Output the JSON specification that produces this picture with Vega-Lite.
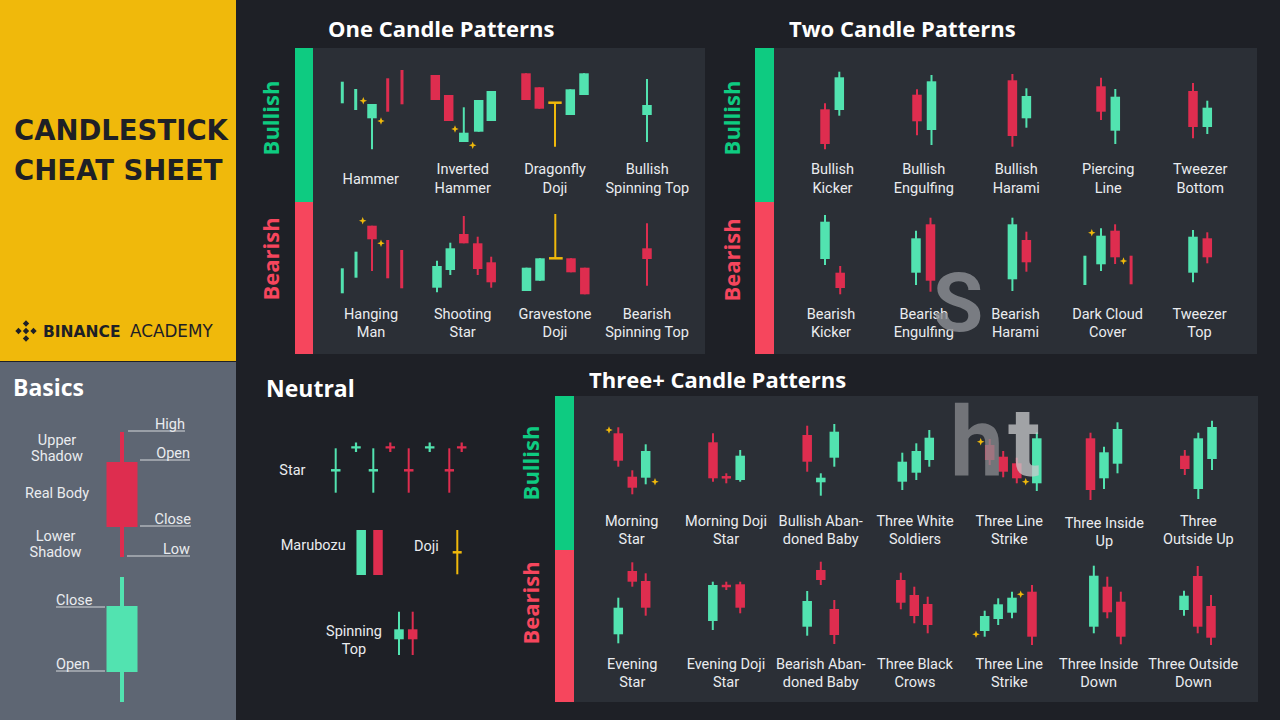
{
  "$schema": "https://vega.github.io/schema/vega-lite/v6.json",
  "width": 1280,
  "height": 720,
  "autosize": {"type": "fit", "contains": "padding"},
  "padding": 0,
  "background": "#1e2026",
  "config": {"view": {"stroke": null}, "scale": {"continuousPadding": 0}},
  "datasets": {
    "blocks": [
      {"d": "yellow", "x": 0, "x2": 236, "y": 0, "y2": 361},
      {"d": "basics", "x": 0, "x2": 236, "y": 362, "y2": 720},
      {"d": "panel", "x": 295, "x2": 705, "y": 48, "y2": 354},
      {"d": "panel", "x": 755, "x2": 1257, "y": 48, "y2": 354},
      {"d": "panel", "x": 555, "x2": 1258, "y": 396, "y2": 702},
      {"d": "bull", "x": 295, "x2": 313, "y": 48, "y2": 202},
      {"d": "bear", "x": 295, "x2": 313, "y": 202, "y2": 354},
      {"d": "bull", "x": 755, "x2": 774, "y": 48, "y2": 202},
      {"d": "bear", "x": 755, "x2": 774, "y": 202, "y2": 354},
      {"d": "bull", "x": 555, "x2": 574, "y": 396, "y2": 550},
      {"d": "bear", "x": 555, "x2": 574, "y": 550, "y2": 702}
    ],
    "candles": [
      {"p": "Basics", "x": 122, "o": 462, "c": 527, "h": 432, "l": 557, "d": "down", "k": "big"},
      {"p": "Basics", "x": 122, "o": 672, "c": 606, "h": 577, "l": 702, "d": "up", "k": "big"},
      {"p": "Hammer", "x": 342.3, "o": 103.3, "c": 81.7, "d": "up", "k": "thin"},
      {"p": "Hammer", "x": 355.7, "o": 110, "c": 89, "d": "up", "k": "thin"},
      {"p": "Hammer", "x": 372, "o": 118.3, "c": 104, "h": 104, "l": 149.3, "d": "up"},
      {"p": "Hammer", "x": 387.7, "o": 78.3, "c": 111.7, "d": "down", "k": "thin"},
      {"p": "Hammer", "x": 402, "o": 70, "c": 104.3, "d": "down", "k": "thin"},
      {"p": "Inverted Hammer", "x": 435.3, "o": 75, "c": 100, "h": 75, "l": 100, "d": "down"},
      {"p": "Inverted Hammer", "x": 448.7, "o": 95, "c": 121, "h": 95, "l": 121, "d": "down"},
      {"p": "Inverted Hammer", "x": 463.8, "o": 142, "c": 132.7, "h": 107.3, "l": 142, "d": "up"},
      {"p": "Inverted Hammer", "x": 478.7, "o": 131.7, "c": 100, "h": 100, "l": 131.7, "d": "up"},
      {"p": "Inverted Hammer", "x": 491.3, "o": 121, "c": 91, "h": 91, "l": 121, "d": "up"},
      {"p": "Dragonfly Doji", "x": 526, "o": 73.3, "c": 100, "h": 73.3, "l": 100, "d": "down"},
      {"p": "Dragonfly Doji", "x": 539.3, "o": 87.3, "c": 108.7, "h": 87.3, "l": 108.7, "d": "down"},
      {"p": "Dragonfly Doji", "x": 555, "h": 102.7, "l": 146.7, "d": "doji", "k": "wick"},
      {"p": "Dragonfly Doji", "x": 570.3, "o": 115, "c": 89.3, "h": 89.3, "l": 115, "d": "up"},
      {"p": "Dragonfly Doji", "x": 584, "o": 95, "c": 73.3, "h": 73.3, "l": 95, "d": "up"},
      {"p": "Bullish Spinning Top", "x": 647, "o": 115, "c": 105, "h": 79, "l": 142, "d": "up"},
      {"p": "Hanging Man", "x": 342.3, "o": 293.3, "c": 268.3, "d": "up", "k": "thin"},
      {"p": "Hanging Man", "x": 356, "o": 277.7, "c": 251.7, "d": "up", "k": "thin"},
      {"p": "Hanging Man", "x": 372, "o": 225.7, "c": 239.3, "h": 225.7, "l": 271, "d": "down"},
      {"p": "Hanging Man", "x": 387.7, "o": 240, "c": 278.3, "d": "down", "k": "thin"},
      {"p": "Hanging Man", "x": 401.7, "o": 250, "c": 288.3, "d": "down", "k": "thin"},
      {"p": "Shooting Star", "x": 437, "o": 287.7, "c": 266, "h": 260.7, "l": 292.3, "d": "up"},
      {"p": "Shooting Star", "x": 450.3, "o": 270, "c": 248.3, "h": 242.7, "l": 275, "d": "up"},
      {"p": "Shooting Star", "x": 463.8, "o": 234, "c": 243.3, "h": 216, "l": 243.3, "d": "down"},
      {"p": "Shooting Star", "x": 477.7, "o": 243.3, "c": 269, "h": 236.7, "l": 275, "d": "down"},
      {"p": "Shooting Star", "x": 491.2, "o": 262.3, "c": 282.3, "h": 256.7, "l": 287.7, "d": "down"},
      {"p": "Gravestone Doji", "x": 526.5, "o": 291, "c": 267.7, "h": 267.7, "l": 291, "d": "up"},
      {"p": "Gravestone Doji", "x": 540, "o": 280.7, "c": 258.3, "h": 258.3, "l": 280.7, "d": "up"},
      {"p": "Gravestone Doji", "x": 555.3, "h": 214, "l": 258.3, "d": "doji", "k": "wick"},
      {"p": "Gravestone Doji", "x": 571, "o": 258.3, "c": 272.3, "h": 258.3, "l": 272.3, "d": "down"},
      {"p": "Gravestone Doji", "x": 584.8, "o": 267.7, "c": 294.3, "h": 267.7, "l": 294.3, "d": "down"},
      {"p": "Bearish Spinning Top", "x": 647, "o": 248.3, "c": 259, "h": 223.3, "l": 285.7, "d": "down"},
      {"p": "Bullish Kicker", "x": 825, "o": 109.3, "c": 144, "h": 103.3, "l": 149.3, "d": "down"},
      {"p": "Bullish Kicker", "x": 839.3, "o": 110, "c": 77.3, "h": 71.7, "l": 115.7, "d": "up"},
      {"p": "Bullish Engulfing", "x": 917, "o": 94.7, "c": 121.3, "h": 89.3, "l": 135.3, "d": "down"},
      {"p": "Bullish Engulfing", "x": 931.5, "o": 130, "c": 81.3, "h": 75, "l": 145, "d": "up"},
      {"p": "Bullish Harami", "x": 1012.4, "o": 80.3, "c": 136, "h": 74, "l": 146.7, "d": "down"},
      {"p": "Bullish Harami", "x": 1026.4, "o": 118.3, "c": 96, "h": 88.3, "l": 127.7, "d": "up"},
      {"p": "Piercing Line", "x": 1101, "o": 86.3, "c": 111.7, "h": 77.7, "l": 120, "d": "down"},
      {"p": "Piercing Line", "x": 1115.3, "o": 130.7, "c": 96.7, "h": 89, "l": 144, "d": "up"},
      {"p": "Tweezer Bottom", "x": 1193, "o": 91, "c": 127, "h": 83, "l": 138.3, "d": "down"},
      {"p": "Tweezer Bottom", "x": 1207.3, "o": 127, "c": 107.7, "h": 100.7, "l": 134, "d": "up"},
      {"p": "Bearish Kicker", "x": 825, "o": 259, "c": 221.7, "h": 215, "l": 265, "d": "up"},
      {"p": "Bearish Kicker", "x": 840.2, "o": 272.7, "c": 288, "h": 266, "l": 294.3, "d": "down"},
      {"p": "Bearish Engulfing", "x": 916, "o": 272.7, "c": 238.3, "h": 230.7, "l": 285, "d": "up"},
      {"p": "Bearish Engulfing", "x": 930.5, "o": 224.3, "c": 280.7, "h": 217.7, "l": 291.7, "d": "down"},
      {"p": "Bearish Harami", "x": 1012.4, "o": 279.3, "c": 224.3, "h": 217.7, "l": 291, "d": "up"},
      {"p": "Bearish Harami", "x": 1026.4, "o": 240, "c": 262.3, "h": 231.7, "l": 271.7, "d": "down"},
      {"p": "Dark Cloud Cover", "x": 1084.9, "o": 285, "c": 255.7, "d": "up", "k": "thin"},
      {"p": "Dark Cloud Cover", "x": 1101, "o": 264.3, "c": 235.7, "h": 228.3, "l": 271, "d": "up"},
      {"p": "Dark Cloud Cover", "x": 1115.1, "o": 230.7, "c": 257.3, "h": 224.3, "l": 264, "d": "down"},
      {"p": "Dark Cloud Cover", "x": 1131.1, "o": 255.7, "c": 284.3, "d": "down", "k": "thin"},
      {"p": "Tweezer Top", "x": 1193, "o": 272.7, "c": 236.7, "h": 230, "l": 282.3, "d": "up"},
      {"p": "Tweezer Top", "x": 1207.3, "o": 238.3, "c": 257.3, "h": 232.3, "l": 263.3, "d": "down"},
      {"p": "Star", "x": 335.7, "h": 448.3, "l": 492.7, "d": "up", "k": "wick"},
      {"p": "Star", "x": 373.3, "h": 448.3, "l": 492.7, "d": "up", "k": "wick"},
      {"p": "Star", "x": 408.7, "h": 448.3, "l": 492.7, "d": "down", "k": "wick"},
      {"p": "Star", "x": 449.3, "h": 448.3, "l": 492.7, "d": "down", "k": "wick"},
      {"p": "Marubozu", "x": 361.2, "o": 575, "c": 530, "h": 530, "l": 575, "d": "up"},
      {"p": "Marubozu", "x": 378, "o": 530, "c": 575, "h": 530, "l": 575, "d": "down"},
      {"p": "Doji", "x": 457.3, "h": 530, "l": 574.3, "d": "doji", "k": "wick"},
      {"p": "Spinning Top", "x": 399, "o": 639.3, "c": 629.3, "h": 611.7, "l": 655, "d": "up"},
      {"p": "Spinning Top", "x": 412.7, "o": 629.3, "c": 639.3, "h": 611.7, "l": 655, "d": "down"},
      {"p": "Morning Star", "x": 618.3, "o": 433.3, "c": 460.7, "h": 427.3, "l": 466.7, "d": "down"},
      {"p": "Morning Star", "x": 632.3, "o": 476.7, "c": 487.7, "h": 470.3, "l": 494.3, "d": "down"},
      {"p": "Morning Star", "x": 645.7, "o": 477.7, "c": 451, "h": 444.3, "l": 484.3, "d": "up"},
      {"p": "Morning Doji Star", "x": 713, "o": 442.3, "c": 478.3, "h": 433.3, "l": 481.7, "d": "down"},
      {"p": "Morning Doji Star", "x": 726.3, "h": 473.3, "l": 483.3, "d": "down", "k": "wick"},
      {"p": "Morning Doji Star", "x": 740.2, "o": 480, "c": 455.7, "h": 450, "l": 481.7, "d": "up"},
      {"p": "Bullish Abandoned Baby", "x": 807.2, "o": 435, "c": 461.7, "h": 425.7, "l": 471.7, "d": "down"},
      {"p": "Bullish Abandoned Baby", "x": 820.8, "o": 482.3, "c": 477.7, "h": 473.3, "l": 495.7, "d": "up"},
      {"p": "Bullish Abandoned Baby", "x": 834.3, "o": 457.7, "c": 431.7, "h": 424, "l": 466.7, "d": "up"},
      {"p": "Three White Soldiers", "x": 902.3, "o": 481.7, "c": 461.7, "h": 452.7, "l": 490, "d": "up"},
      {"p": "Three White Soldiers", "x": 916.3, "o": 472.7, "c": 451, "h": 443.3, "l": 480, "d": "up"},
      {"p": "Three White Soldiers", "x": 929.3, "o": 460, "c": 437.7, "h": 430, "l": 466.7, "d": "up"},
      {"p": "Three Line Strike Up", "x": 989.7, "o": 445, "c": 460, "h": 439, "l": 465, "d": "down"},
      {"p": "Three Line Strike Up", "x": 1003.2, "o": 456.7, "c": 471.7, "h": 451, "l": 477.3, "d": "down"},
      {"p": "Three Line Strike Up", "x": 1016.8, "o": 463.3, "c": 478.3, "h": 457.7, "l": 483.3, "d": "down"},
      {"p": "Three Line Strike Up", "x": 1036.8, "o": 483.3, "c": 438.3, "h": 432.3, "l": 491, "d": "up"},
      {"p": "Three Inside Up", "x": 1090.5, "o": 438.3, "c": 490, "h": 432.7, "l": 500, "d": "down"},
      {"p": "Three Inside Up", "x": 1104, "o": 478.3, "c": 452.3, "h": 446.7, "l": 489, "d": "up"},
      {"p": "Three Inside Up", "x": 1117.5, "o": 463.7, "c": 429, "h": 422.3, "l": 473.3, "d": "up"},
      {"p": "Three Outside Up", "x": 1184.8, "o": 455.7, "c": 469, "h": 450, "l": 475, "d": "down"},
      {"p": "Three Outside Up", "x": 1198.3, "o": 489, "c": 438.3, "h": 432.7, "l": 499, "d": "up"},
      {"p": "Three Outside Up", "x": 1212, "o": 459, "c": 427, "h": 420.7, "l": 470, "d": "up"},
      {"p": "Evening Star", "x": 618.3, "o": 634.3, "c": 607.7, "h": 597.7, "l": 643.3, "d": "up"},
      {"p": "Evening Star", "x": 632.3, "o": 571, "c": 581.7, "h": 562.3, "l": 586.7, "d": "down"},
      {"p": "Evening Star", "x": 645.7, "o": 581, "c": 607.7, "h": 573.3, "l": 615.7, "d": "down"},
      {"p": "Evening Doji Star", "x": 712.8, "o": 621, "c": 585, "h": 581.7, "l": 630, "d": "up"},
      {"p": "Evening Doji Star", "x": 726.3, "h": 581.7, "l": 590, "d": "down", "k": "wick"},
      {"p": "Evening Doji Star", "x": 740.2, "o": 584.3, "c": 607.7, "h": 581.7, "l": 613.3, "d": "down"},
      {"p": "Bearish Abandoned Baby", "x": 807.2, "o": 626.7, "c": 601, "h": 591, "l": 635.7, "d": "up"},
      {"p": "Bearish Abandoned Baby", "x": 820.8, "o": 570, "c": 580, "h": 561.7, "l": 585, "d": "down"},
      {"p": "Bearish Abandoned Baby", "x": 834.3, "o": 609, "c": 635, "h": 600, "l": 644, "d": "down"},
      {"p": "Three Black Crows", "x": 900.8, "o": 580, "c": 602.7, "h": 572.7, "l": 609.3, "d": "down"},
      {"p": "Three Black Crows", "x": 914.3, "o": 595, "c": 616, "h": 586.7, "l": 623.3, "d": "down"},
      {"p": "Three Black Crows", "x": 927.7, "o": 604, "c": 625, "h": 596.7, "l": 633.3, "d": "down"},
      {"p": "Three Line Strike Down", "x": 984.7, "o": 631, "c": 616, "h": 610.7, "l": 636.7, "d": "up"},
      {"p": "Three Line Strike Down", "x": 998.2, "o": 619, "c": 604.3, "h": 598.3, "l": 625, "d": "up"},
      {"p": "Three Line Strike Down", "x": 1012, "o": 612.7, "c": 597.7, "h": 591.7, "l": 618.3, "d": "up"},
      {"p": "Three Line Strike Down", "x": 1032, "o": 591.7, "c": 636.7, "h": 585, "l": 645, "d": "down"},
      {"p": "Three Inside Down", "x": 1093.8, "o": 626.7, "c": 575.7, "h": 565.7, "l": 633.3, "d": "up"},
      {"p": "Three Inside Down", "x": 1107.3, "o": 586.7, "c": 612.3, "h": 576.7, "l": 618.3, "d": "down"},
      {"p": "Three Inside Down", "x": 1120.8, "o": 601.7, "c": 636.7, "h": 591.7, "l": 644.3, "d": "down"},
      {"p": "Three Outside Down", "x": 1184, "o": 610, "c": 595.7, "h": 590.7, "l": 615.7, "d": "up"},
      {"p": "Three Outside Down", "x": 1197.7, "o": 576, "c": 626.7, "h": 566, "l": 633.3, "d": "down"},
      {"p": "Three Outside Down", "x": 1211, "o": 606, "c": 637.7, "h": 595, "l": 645, "d": "down"}
    ],
    "crosses": [
      {"x": 548.3, "x2": 561.7, "y": 102.7, "d": "doji"},
      {"x": 549, "x2": 562.7, "y": 258.3, "d": "doji"},
      {"x": 331, "x2": 340.5, "y": 470.3, "d": "up"},
      {"x": 368.7, "x2": 378, "y": 470.3, "d": "up"},
      {"x": 404, "x2": 413.5, "y": 470.3, "d": "down"},
      {"x": 444.7, "x2": 454, "y": 470.3, "d": "down"},
      {"x": 452.7, "x2": 461.7, "y": 552.3, "d": "doji"},
      {"x": 721.7, "x2": 731, "y": 477.3, "d": "down"},
      {"x": 721.7, "x2": 731, "y": 586, "d": "down"}
    ],
    "pluses": [
      {"x": 356, "y": 447.3, "d": "up"},
      {"x": 390.3, "y": 447.3, "d": "down"},
      {"x": 429.7, "y": 447.3, "d": "up"},
      {"x": 461.7, "y": 447.3, "d": "down"}
    ],
    "sparks": [
      {"x": 363.3, "y": 100.7}, {"x": 381, "y": 121}, {"x": 455, "y": 129}, {"x": 472.7, "y": 145.3},
      {"x": 362.7, "y": 220.7}, {"x": 381, "y": 243.3}, {"x": 1091.8, "y": 232.7}, {"x": 1123.5, "y": 261},
      {"x": 609, "y": 430}, {"x": 655, "y": 481.7}, {"x": 980.7, "y": 441.7}, {"x": 1025.7, "y": 481.7},
      {"x": 976, "y": 634.3}, {"x": 1020.7, "y": 594.3}
    ],
    "underlines": [
      {"x": 128, "x2": 185, "y": 431},
      {"x": 140, "x2": 190, "y": 460},
      {"x": 140, "x2": 191, "y": 526},
      {"x": 127, "x2": 190, "y": 556},
      {"x": 56, "x2": 105, "y": 607},
      {"x": 56, "x2": 105, "y": 671}
    ],
    "logo": [
      {"x": 26, "y": 331}, {"x": 18.5, "y": 331}, {"x": 33.5, "y": 331}, {"x": 26, "y": 323.5}, {"x": 26, "y": 338.5}
    ],
    "labels": [
      {"t": ["Hammer"], "x": 370.7, "y": 184},
      {"t": ["Inverted", "Hammer"], "x": 462.7, "y": 174.3},
      {"t": ["Dragonfly", "Doji"], "x": 555, "y": 174.3},
      {"t": ["Bullish", "Spinning Top"], "x": 647.3, "y": 174.3},
      {"t": ["Hanging", "Man"], "x": 371, "y": 319},
      {"t": ["Shooting", "Star"], "x": 462.7, "y": 319},
      {"t": ["Gravestone", "Doji"], "x": 555, "y": 319},
      {"t": ["Bearish", "Spinning Top"], "x": 647, "y": 319},
      {"t": ["Bullish", "Kicker"], "x": 832.5, "y": 174.3},
      {"t": ["Bullish", "Engulfing"], "x": 923.8, "y": 174.3},
      {"t": ["Bullish", "Harami"], "x": 1016.2, "y": 174.3},
      {"t": ["Piercing", "Line"], "x": 1108.2, "y": 174.3},
      {"t": ["Tweezer", "Bottom"], "x": 1200.2, "y": 174.3},
      {"t": ["Bearish", "Kicker"], "x": 831, "y": 319},
      {"t": ["Bearish", "Engulfing"], "x": 923.8, "y": 319},
      {"t": ["Bearish", "Harami"], "x": 1015.5, "y": 319},
      {"t": ["Dark Cloud", "Cover"], "x": 1107.5, "y": 319},
      {"t": ["Tweezer", "Top"], "x": 1199.5, "y": 319},
      {"t": ["Morning", "Star"], "x": 631.7, "y": 526},
      {"t": ["Morning Doji", "Star"], "x": 726, "y": 526},
      {"t": ["Bullish Aban-", "doned Baby"], "x": 820.7, "y": 526},
      {"t": ["Three White", "Soldiers"], "x": 915, "y": 526},
      {"t": ["Three Line", "Strike"], "x": 1009.3, "y": 526},
      {"t": ["Three Inside", "Up"], "x": 1104.3, "y": 527.5},
      {"t": ["Three", "Outside Up"], "x": 1198.3, "y": 526},
      {"t": ["Evening", "Star"], "x": 632.3, "y": 669},
      {"t": ["Evening Doji", "Star"], "x": 726, "y": 669},
      {"t": ["Bearish Aban-", "doned Baby"], "x": 820.7, "y": 669},
      {"t": ["Three Black", "Crows"], "x": 915, "y": 669},
      {"t": ["Three Line", "Strike"], "x": 1009.3, "y": 669},
      {"t": ["Three Inside", "Down"], "x": 1098.7, "y": 669},
      {"t": ["Three Outside", "Down"], "x": 1193.3, "y": 669},
      {"t": ["Spinning", "Top"], "x": 354, "y": 635.5}
    ],
    "basicsLabels": [
      {"t": ["Upper", "Shadow"], "x": 57, "y": 445},
      {"t": ["Real Body"], "x": 57, "y": 498},
      {"t": ["Lower", "Shadow"], "x": 55.5, "y": 540.5}
    ],
    "leftLabels": [
      {"t": "Star", "x": 279.3, "y": 475},
      {"t": "Marubozu", "x": 280.7, "y": 550},
      {"t": "Doji", "x": 414, "y": 551},
      {"t": "Close", "x": 56, "y": 604.5},
      {"t": "Open", "x": 56, "y": 669}
    ],
    "rightLabels": [
      {"t": "High", "x": 185, "y": 429},
      {"t": "Open", "x": 190, "y": 458},
      {"t": "Close", "x": 191, "y": 524},
      {"t": "Low", "x": 190, "y": 553.5}
    ],
    "titles": [
      {"t": "One Candle Patterns", "x": 328, "y": 37},
      {"t": "Two Candle Patterns", "x": 789, "y": 37},
      {"t": "Three+ Candle Patterns", "x": 589, "y": 388}
    ],
    "subtitles": [
      {"t": "Neutral", "x": 266, "y": 397},
      {"t": "Basics", "x": 13, "y": 396}
    ],
    "sections": [
      {"t": "Bullish", "x": 272, "y": 118, "d": "bull"},
      {"t": "Bearish", "x": 272, "y": 259, "d": "bear"},
      {"t": "Bullish", "x": 733, "y": 118, "d": "bull"},
      {"t": "Bearish", "x": 733, "y": 260, "d": "bear"},
      {"t": "Bullish", "x": 532, "y": 463, "d": "bull"},
      {"t": "Bearish", "x": 532, "y": 603, "d": "bear"}
    ],
    "headline": [
      {"t": "CANDLESTICK", "x": 14, "y": 140},
      {"t": "CHEAT SHEET", "x": 14, "y": 180}
    ]
  },
  "layer": [
    {
      "data": {"name": "blocks"},
      "mark": {"type": "rect"},
      "encoding": {
        "x": {"field": "x", "type": "quantitative", "axis": null, "scale": {"domain": [0, 1280], "nice": false, "zero": false, "padding": 0}},
        "x2": {"field": "x2"},
        "y": {"field": "y", "type": "quantitative", "axis": null, "scale": {"domain": [0, 720], "nice": false, "zero": false, "reverse": true, "padding": 0}},
        "y2": {"field": "y2"},
        "color": {"field": "d", "type": "nominal", "legend": null, "scale": {"domain": ["yellow", "basics", "panel", "bull", "bear", "up", "down", "doji"], "range": ["#f0b90b", "#5e6673", "#2b2f36", "#0ecb81", "#f6465d", "#52e3b0", "#de2d4f", "#f0b90b"]}}
      }
    },
    {
      "data": {"name": "underlines"},
      "mark": {"type": "rule", "color": "#d5d8dc", "strokeWidth": 1},
      "encoding": {
        "x": {"field": "x", "type": "quantitative", "axis": null, "scale": {"domain": [0, 1280], "nice": false, "zero": false, "padding": 0}},
        "x2": {"field": "x2"},
        "y": {"field": "y", "type": "quantitative", "axis": null, "scale": {"domain": [0, 720], "nice": false, "zero": false, "reverse": true, "padding": 0}}
      }
    },
    {
      "data": {"name": "candles"},
      "transform": [{"filter": "!datum.k || datum.k == 'wick'"}],
      "mark": {"type": "rule", "strokeWidth": 2},
      "encoding": {
        "x": {"field": "x", "type": "quantitative", "axis": null, "scale": {"domain": [0, 1280], "nice": false, "zero": false, "padding": 0}},
        "y": {"field": "h", "type": "quantitative", "axis": null, "scale": {"domain": [0, 720], "nice": false, "zero": false, "reverse": true, "padding": 0}},
        "y2": {"field": "l"},
        "color": {"field": "d", "type": "nominal", "legend": null, "scale": {"domain": ["yellow", "basics", "panel", "bull", "bear", "up", "down", "doji"], "range": ["#f0b90b", "#5e6673", "#2b2f36", "#0ecb81", "#f6465d", "#52e3b0", "#de2d4f", "#f0b90b"]}}
      }
    },
    {
      "data": {"name": "candles"},
      "transform": [{"filter": "datum.k == 'big'"}],
      "mark": {"type": "rule", "strokeWidth": 4},
      "encoding": {
        "x": {"field": "x", "type": "quantitative", "axis": null, "scale": {"domain": [0, 1280], "nice": false, "zero": false, "padding": 0}},
        "y": {"field": "h", "type": "quantitative", "axis": null, "scale": {"domain": [0, 720], "nice": false, "zero": false, "reverse": true, "padding": 0}},
        "y2": {"field": "l"},
        "color": {"field": "d", "type": "nominal", "legend": null, "scale": {"domain": ["yellow", "basics", "panel", "bull", "bear", "up", "down", "doji"], "range": ["#f0b90b", "#5e6673", "#2b2f36", "#0ecb81", "#f6465d", "#52e3b0", "#de2d4f", "#f0b90b"]}}
      }
    },
    {
      "data": {"name": "candles"},
      "transform": [{"filter": "!datum.k"}],
      "mark": {"type": "bar", "size": 9.5},
      "encoding": {
        "x": {"field": "x", "type": "quantitative", "axis": null, "scale": {"domain": [0, 1280], "nice": false, "zero": false, "padding": 0}},
        "y": {"field": "o", "type": "quantitative", "axis": null, "scale": {"domain": [0, 720], "nice": false, "zero": false, "reverse": true, "padding": 0}},
        "y2": {"field": "c"},
        "color": {"field": "d", "type": "nominal", "legend": null, "scale": {"domain": ["yellow", "basics", "panel", "bull", "bear", "up", "down", "doji"], "range": ["#f0b90b", "#5e6673", "#2b2f36", "#0ecb81", "#f6465d", "#52e3b0", "#de2d4f", "#f0b90b"]}}
      }
    },
    {
      "data": {"name": "candles"},
      "transform": [{"filter": "datum.k == 'thin'"}],
      "mark": {"type": "bar", "size": 3},
      "encoding": {
        "x": {"field": "x", "type": "quantitative", "axis": null, "scale": {"domain": [0, 1280], "nice": false, "zero": false, "padding": 0}},
        "y": {"field": "o", "type": "quantitative", "axis": null, "scale": {"domain": [0, 720], "nice": false, "zero": false, "reverse": true, "padding": 0}},
        "y2": {"field": "c"},
        "color": {"field": "d", "type": "nominal", "legend": null, "scale": {"domain": ["yellow", "basics", "panel", "bull", "bear", "up", "down", "doji"], "range": ["#f0b90b", "#5e6673", "#2b2f36", "#0ecb81", "#f6465d", "#52e3b0", "#de2d4f", "#f0b90b"]}}
      }
    },
    {
      "data": {"name": "candles"},
      "transform": [{"filter": "datum.k == 'big'"}],
      "mark": {"type": "bar", "size": 31},
      "encoding": {
        "x": {"field": "x", "type": "quantitative", "axis": null, "scale": {"domain": [0, 1280], "nice": false, "zero": false, "padding": 0}},
        "y": {"field": "o", "type": "quantitative", "axis": null, "scale": {"domain": [0, 720], "nice": false, "zero": false, "reverse": true, "padding": 0}},
        "y2": {"field": "c"},
        "color": {"field": "d", "type": "nominal", "legend": null, "scale": {"domain": ["yellow", "basics", "panel", "bull", "bear", "up", "down", "doji"], "range": ["#f0b90b", "#5e6673", "#2b2f36", "#0ecb81", "#f6465d", "#52e3b0", "#de2d4f", "#f0b90b"]}}
      }
    },
    {
      "data": {"name": "crosses"},
      "mark": {"type": "rule", "strokeWidth": 2.5},
      "encoding": {
        "x": {"field": "x", "type": "quantitative", "axis": null, "scale": {"domain": [0, 1280], "nice": false, "zero": false, "padding": 0}},
        "x2": {"field": "x2"},
        "y": {"field": "y", "type": "quantitative", "axis": null, "scale": {"domain": [0, 720], "nice": false, "zero": false, "reverse": true, "padding": 0}},
        "color": {"field": "d", "type": "nominal", "legend": null, "scale": {"domain": ["yellow", "basics", "panel", "bull", "bear", "up", "down", "doji"], "range": ["#f0b90b", "#5e6673", "#2b2f36", "#0ecb81", "#f6465d", "#52e3b0", "#de2d4f", "#f0b90b"]}}
      }
    },
    {
      "data": {"name": "pluses"},
      "mark": {"type": "point", "shape": "M-1,0L1,0M0,-1L0,1", "filled": false, "strokeWidth": 2.2, "size": 90, "opacity": 1},
      "encoding": {
        "x": {"field": "x", "type": "quantitative", "axis": null, "scale": {"domain": [0, 1280], "nice": false, "zero": false, "padding": 0}},
        "y": {"field": "y", "type": "quantitative", "axis": null, "scale": {"domain": [0, 720], "nice": false, "zero": false, "reverse": true, "padding": 0}},
        "color": {"field": "d", "type": "nominal", "legend": null, "scale": {"domain": ["yellow", "basics", "panel", "bull", "bear", "up", "down", "doji"], "range": ["#f0b90b", "#5e6673", "#2b2f36", "#0ecb81", "#f6465d", "#52e3b0", "#de2d4f", "#f0b90b"]}}
      }
    },
    {
      "data": {"name": "sparks"},
      "mark": {"type": "point", "shape": "M0,-1L0.28,-0.28L1,0L0.28,0.28L0,1L-0.28,0.28L-1,0L-0.28,-0.28Z", "filled": true, "size": 56, "color": "#f0b90b", "opacity": 1},
      "encoding": {
        "x": {"field": "x", "type": "quantitative", "axis": null, "scale": {"domain": [0, 1280], "nice": false, "zero": false, "padding": 0}},
        "y": {"field": "y", "type": "quantitative", "axis": null, "scale": {"domain": [0, 720], "nice": false, "zero": false, "reverse": true, "padding": 0}}
      }
    },
    {
      "data": {"name": "logo"},
      "mark": {"type": "point", "shape": "diamond", "filled": true, "size": 40, "color": "#1e2026", "opacity": 1},
      "encoding": {
        "x": {"field": "x", "type": "quantitative", "axis": null, "scale": {"domain": [0, 1280], "nice": false, "zero": false, "padding": 0}},
        "y": {"field": "y", "type": "quantitative", "axis": null, "scale": {"domain": [0, 720], "nice": false, "zero": false, "reverse": true, "padding": 0}}
      }
    },
    {
      "data": {"name": "headline"},
      "mark": {"type": "text", "font": "DejaVu Sans", "fontWeight": "bold", "fontSize": 27.5, "align": "left", "baseline": "alphabetic", "color": "#1e2026"},
      "encoding": {
        "x": {"field": "x", "type": "quantitative", "axis": null, "scale": {"domain": [0, 1280], "nice": false, "zero": false, "padding": 0}},
        "y": {"field": "y", "type": "quantitative", "axis": null, "scale": {"domain": [0, 720], "nice": false, "zero": false, "reverse": true, "padding": 0}},
        "text": {"field": "t"}
      }
    },
    {
      "data": {"values": [{"t": "BINANCE", "x": 43, "y": 337}]},
      "mark": {"type": "text", "font": "DejaVu Sans", "fontWeight": "bold", "fontSize": 15.5, "align": "left", "baseline": "alphabetic", "color": "#1e2026"},
      "encoding": {
        "x": {"field": "x", "type": "quantitative", "axis": null, "scale": {"domain": [0, 1280], "nice": false, "zero": false, "padding": 0}},
        "y": {"field": "y", "type": "quantitative", "axis": null, "scale": {"domain": [0, 720], "nice": false, "zero": false, "reverse": true, "padding": 0}},
        "text": {"field": "t"}
      }
    },
    {
      "data": {"values": [{"t": "ACADEMY", "x": 130, "y": 337}]},
      "mark": {"type": "text", "font": "DejaVu Sans", "fontSize": 16.8, "align": "left", "baseline": "alphabetic", "color": "#1e2026"},
      "encoding": {
        "x": {"field": "x", "type": "quantitative", "axis": null, "scale": {"domain": [0, 1280], "nice": false, "zero": false, "padding": 0}},
        "y": {"field": "y", "type": "quantitative", "axis": null, "scale": {"domain": [0, 720], "nice": false, "zero": false, "reverse": true, "padding": 0}},
        "text": {"field": "t"}
      }
    },
    {
      "data": {"name": "titles"},
      "mark": {"type": "text", "font": "Open Sans", "fontWeight": "bold", "fontSize": 22, "align": "left", "baseline": "alphabetic", "color": "#ffffff"},
      "encoding": {
        "x": {"field": "x", "type": "quantitative", "axis": null, "scale": {"domain": [0, 1280], "nice": false, "zero": false, "padding": 0}},
        "y": {"field": "y", "type": "quantitative", "axis": null, "scale": {"domain": [0, 720], "nice": false, "zero": false, "reverse": true, "padding": 0}},
        "text": {"field": "t"}
      }
    },
    {
      "data": {"name": "subtitles"},
      "mark": {"type": "text", "font": "Open Sans", "fontWeight": "bold", "fontSize": 23, "align": "left", "baseline": "alphabetic", "color": "#ffffff"},
      "encoding": {
        "x": {"field": "x", "type": "quantitative", "axis": null, "scale": {"domain": [0, 1280], "nice": false, "zero": false, "padding": 0}},
        "y": {"field": "y", "type": "quantitative", "axis": null, "scale": {"domain": [0, 720], "nice": false, "zero": false, "reverse": true, "padding": 0}},
        "text": {"field": "t"}
      }
    },
    {
      "data": {"name": "sections"},
      "mark": {"type": "text", "font": "Open Sans", "fontWeight": "bold", "fontSize": 22, "align": "center", "baseline": "middle", "angle": 270},
      "encoding": {
        "x": {"field": "x", "type": "quantitative", "axis": null, "scale": {"domain": [0, 1280], "nice": false, "zero": false, "padding": 0}},
        "y": {"field": "y", "type": "quantitative", "axis": null, "scale": {"domain": [0, 720], "nice": false, "zero": false, "reverse": true, "padding": 0}},
        "text": {"field": "t"},
        "color": {"field": "d", "type": "nominal", "legend": null, "scale": {"domain": ["yellow", "basics", "panel", "bull", "bear", "up", "down", "doji"], "range": ["#f0b90b", "#5e6673", "#2b2f36", "#0ecb81", "#f6465d", "#52e3b0", "#de2d4f", "#f0b90b"]}}
      }
    },
    {
      "data": {"name": "labels"},
      "mark": {"type": "text", "font": "Roboto", "fontSize": 14.5, "align": "center", "baseline": "alphabetic", "lineHeight": 18.4, "color": "#eaecef"},
      "encoding": {
        "x": {"field": "x", "type": "quantitative", "axis": null, "scale": {"domain": [0, 1280], "nice": false, "zero": false, "padding": 0}},
        "y": {"field": "y", "type": "quantitative", "axis": null, "scale": {"domain": [0, 720], "nice": false, "zero": false, "reverse": true, "padding": 0}},
        "text": {"field": "t"}
      }
    },
    {
      "data": {"name": "basicsLabels"},
      "mark": {"type": "text", "font": "Roboto", "fontSize": 14.5, "align": "center", "baseline": "alphabetic", "lineHeight": 16, "color": "#eaecef"},
      "encoding": {
        "x": {"field": "x", "type": "quantitative", "axis": null, "scale": {"domain": [0, 1280], "nice": false, "zero": false, "padding": 0}},
        "y": {"field": "y", "type": "quantitative", "axis": null, "scale": {"domain": [0, 720], "nice": false, "zero": false, "reverse": true, "padding": 0}},
        "text": {"field": "t"}
      }
    },
    {
      "data": {"name": "leftLabels"},
      "mark": {"type": "text", "font": "Roboto", "fontSize": 14.5, "align": "left", "baseline": "alphabetic", "color": "#eaecef"},
      "encoding": {
        "x": {"field": "x", "type": "quantitative", "axis": null, "scale": {"domain": [0, 1280], "nice": false, "zero": false, "padding": 0}},
        "y": {"field": "y", "type": "quantitative", "axis": null, "scale": {"domain": [0, 720], "nice": false, "zero": false, "reverse": true, "padding": 0}},
        "text": {"field": "t"}
      }
    },
    {
      "data": {"name": "rightLabels"},
      "mark": {"type": "text", "font": "Roboto", "fontSize": 14.5, "align": "right", "baseline": "alphabetic", "color": "#eaecef"},
      "encoding": {
        "x": {"field": "x", "type": "quantitative", "axis": null, "scale": {"domain": [0, 1280], "nice": false, "zero": false, "padding": 0}},
        "y": {"field": "y", "type": "quantitative", "axis": null, "scale": {"domain": [0, 720], "nice": false, "zero": false, "reverse": true, "padding": 0}},
        "text": {"field": "t"}
      }
    },
    {
      "data": {"values": [{"t": "S", "x": 958, "y": 331}]},
      "mark": {"type": "text", "font": "Roboto", "fontWeight": "bold", "fontSize": 82, "align": "center", "baseline": "alphabetic", "color": "#8d9095", "opacity": 0.8},
      "encoding": {
        "x": {"field": "x", "type": "quantitative", "axis": null, "scale": {"domain": [0, 1280], "nice": false, "zero": false, "padding": 0}},
        "y": {"field": "y", "type": "quantitative", "axis": null, "scale": {"domain": [0, 720], "nice": false, "zero": false, "reverse": true, "padding": 0}},
        "text": {"field": "t"}
      }
    },
    {
      "data": {"values": [{"t": "h", "x": 950, "y": 475}]},
      "mark": {"type": "text", "font": "Roboto", "fontWeight": "bold", "fontSize": 96, "align": "left", "baseline": "alphabetic", "color": "#8a8c90", "opacity": 0.75},
      "encoding": {
        "x": {"field": "x", "type": "quantitative", "axis": null, "scale": {"domain": [0, 1280], "nice": false, "zero": false, "padding": 0}},
        "y": {"field": "y", "type": "quantitative", "axis": null, "scale": {"domain": [0, 720], "nice": false, "zero": false, "reverse": true, "padding": 0}},
        "text": {"field": "t"}
      }
    },
    {
      "data": {"values": [{"t": "t", "x": 1008, "y": 475}]},
      "mark": {"type": "text", "font": "Roboto", "fontWeight": "bold", "fontSize": 96, "align": "left", "baseline": "alphabetic", "color": "#c9cacc", "opacity": 0.75},
      "encoding": {
        "x": {"field": "x", "type": "quantitative", "axis": null, "scale": {"domain": [0, 1280], "nice": false, "zero": false, "padding": 0}},
        "y": {"field": "y", "type": "quantitative", "axis": null, "scale": {"domain": [0, 720], "nice": false, "zero": false, "reverse": true, "padding": 0}},
        "text": {"field": "t"}
      }
    }
  ]
}
